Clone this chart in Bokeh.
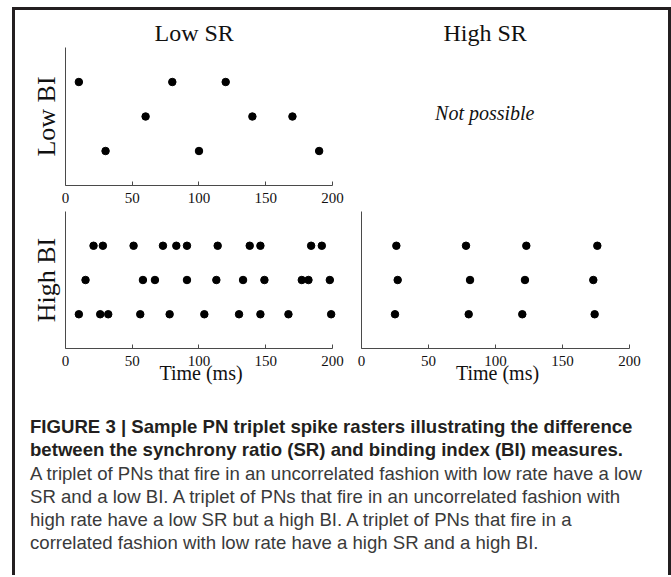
from bokeh.plotting import figure
from bokeh.layouts import column, row
from bokeh.models import Div, Range1d, FixedTicker, Label
from bokeh.embed import file_html
from bokeh.resources import INLINE

# ---------------- data ----------------
x_ticks = [0, 50, 100, 150, 200]
neuron_rows = [1, 2, 3]  # bottom, middle, top raster rows

# Low SR / Low BI
lsr_lbi_n1 = [30, 100, 190]
lsr_lbi_n2 = [60, 140, 170]
lsr_lbi_n3 = [10, 80, 120]

# Low SR / High BI
lsr_hbi_n1 = [10, 26, 32, 56, 78, 104, 130, 146, 167, 199]
lsr_hbi_n2 = [15, 58, 67, 91, 113, 133, 149, 177, 182, 198]
lsr_hbi_n3 = [21, 28, 51, 73, 83, 91, 114, 138, 146, 184, 192]

# High SR / High BI
hsr_hbi_n1 = [25, 80, 120, 174]
hsr_hbi_n2 = [27, 81, 122, 173]
hsr_hbi_n3 = [26, 78, 123, 176]

col_titles = ["Low SR", "High SR"]
row_titles = ["Low BI", "High BI"]
x_label = "Time (ms)"
empty_note = "Not possible"

caption_bold = [
    "FIGURE 3 | Sample PN triplet spike rasters illustrating the difference",
    "between the synchrony ratio (SR) and binding index (BI) measures.",
]
caption_text = [
    "A triplet of PNs that fire in an uncorrelated fashion with low rate have a low",
    "SR and a low BI. A triplet of PNs that fire in an uncorrelated fashion with",
    "high rate have a low SR but a high BI. A triplet of PNs that fire in a",
    "correlated fashion with low rate have a high SR and a high BI.",
]

SERIF = "Liberation Serif"
AXIS_COLOR = "#4a4a4a"
INK = "#111111"


def make_fig(width, height, left, right, top, bottom, with_axes=True):
    kw = dict(width=width, height=height, output_backend="svg", toolbar_location=None,
              x_range=Range1d(0, 203), y_range=Range1d(0, 4),
              min_border_left=left, min_border_right=right,
              min_border_top=top, min_border_bottom=bottom)
    if not with_axes:
        kw.update(x_axis_type=None, y_axis_type=None)
    p = figure(**kw)
    p.outline_line_color = None
    p.grid.visible = False
    p.background_fill_color = "white"
    p.border_fill_color = "white"
    if with_axes:
        p.xaxis.ticker = FixedTicker(ticks=x_ticks)
        p.xaxis.bounds = (0, 200)
        p.xaxis.major_tick_in = 4
        p.xaxis.major_tick_out = 0
        p.xaxis.minor_tick_line_color = None
        p.xaxis.major_label_text_font = SERIF
        p.xaxis.major_label_text_font_size = "15px"
        p.xaxis.major_label_text_color = INK
        p.xaxis.major_label_standoff = 7
        p.axis.axis_line_color = AXIS_COLOR
        p.axis.major_tick_line_color = AXIS_COLOR
        p.yaxis.ticker = FixedTicker(ticks=[])
        p.yaxis.minor_tick_line_color = None
        p.yaxis.axis_label_text_font = SERIF
        p.yaxis.axis_label_text_font_size = "26px"
        p.yaxis.axis_label_text_font_style = "normal"
        p.yaxis.axis_label_text_color = INK
        p.yaxis.axis_label_standoff = 5
    return p


def style_title(p, text, offset):
    p.title.text = text
    p.title.align = "left"
    p.title.text_font = SERIF
    p.title.text_font_size = "24px"
    p.title.text_font_style = "normal"
    p.title.text_color = INK
    p.title.offset = offset
    p.title.standoff = 4


def raster(p, n1, n2, n3):
    for spikes, r in zip([n1, n2, n3], neuron_rows):
        p.scatter(spikes, [r] * len(spikes), size=7.5, color="black")


# top-left: Low SR / Low BI
p_tl = make_fig(330, 199, 50, 9, 37, 24)
style_title(p_tl, col_titles[0], 89)
p_tl.yaxis.axis_label = row_titles[0]
raster(p_tl, lsr_lbi_n1, lsr_lbi_n2, lsr_lbi_n3)

# top-right: High SR / Low BI (not possible)
p_tr = make_fig(323, 199, 16, 35, 37, 24, with_axes=False)
style_title(p_tr, col_titles[1], 82)
p_tr.add_layout(Label(x=92, y=2.1, text=empty_note, text_align="center",
                      text_baseline="middle", text_font=SERIF, text_font_size="20px",
                      text_font_style="italic", text_color=INK))

# bottom-left: Low SR / High BI
p_bl = make_fig(330, 186, 50, 9, 2, 47)
p_bl.yaxis.axis_label = row_titles[1]
p_bl.xaxis.axis_label = x_label
raster(p_bl, lsr_hbi_n1, lsr_hbi_n2, lsr_hbi_n3)

# bottom-right: High SR / High BI
p_br = make_fig(323, 186, 16, 35, 2, 47)
p_br.xaxis.axis_label = x_label
raster(p_br, hsr_hbi_n1, hsr_hbi_n2, hsr_hbi_n3)

for p in (p_bl, p_br):
    p.xaxis.axis_label_text_font = SERIF
    p.xaxis.axis_label_text_font_size = "20px"
    p.xaxis.axis_label_text_font_style = "normal"
    p.xaxis.axis_label_text_color = INK
    p.xaxis.axis_label_standoff = -7

bold_html = "<br>".join(f"<span style='font-weight:bold;color:#231f20'>{t}</span>" for t in caption_bold)
text_html = "<br>".join(f"<span style='color:#3a3a3a'>{t}</span>" for t in caption_text)
caption = Div(text=bold_html + "<br>" + text_html, width=653, height=180, margin=(0, 0, 0, 0),
              styles={"font-family": "'Liberation Sans', Arial, sans-serif", "font-size": "18.6px",
                      "line-height": "23.3px", "white-space": "nowrap",
                      "padding-left": "15px", "padding-top": "20px"})

layout = column(row(p_tl, p_tr), row(p_bl, p_br), caption,
                width=659, margin=(7, 0, 0, 12),
                styles={"border-top": "3px solid #231f20", "border-left": "3px solid #231f20",
                        "border-right": "3px solid #231f20"})

open("out.html", "w").write(file_html(layout, INLINE))
